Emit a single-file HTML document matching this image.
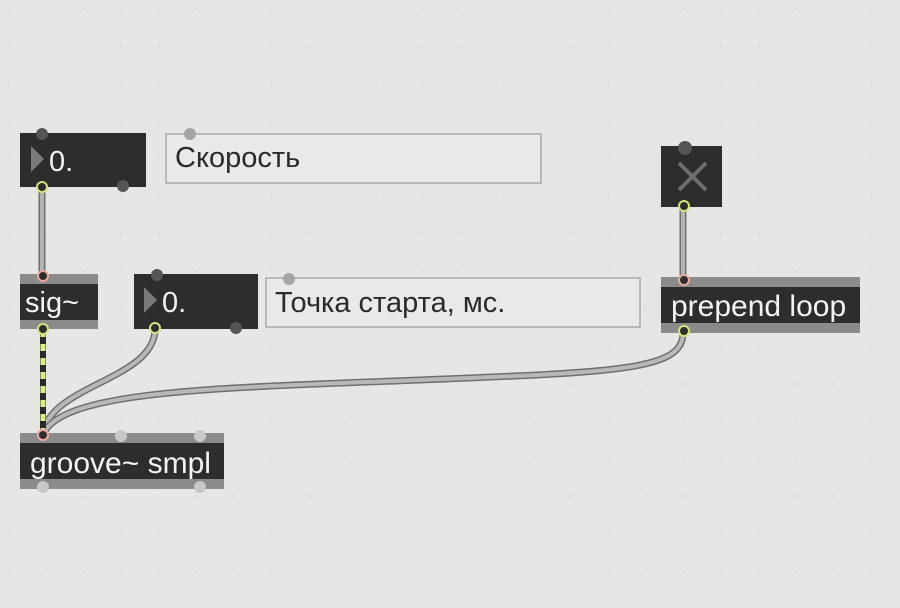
<!DOCTYPE html>
<html><head><meta charset="utf-8"><style>
html,body{margin:0;padding:0;background:#e6e7e5;}
svg{display:block}
text{font-family:"Liberation Sans","DejaVu Sans",sans-serif;}
</style></head><body>
<svg width="900" height="608" viewBox="0 0 900 608" xmlns="http://www.w3.org/2000/svg">
<defs>
<pattern id="g" width="37.5" height="37.5" patternUnits="userSpaceOnUse" x="8" y="8">
<rect x="0" y="0" width="1.5" height="1.5" fill="#d2d3d1"/>
</pattern>
</defs>
<rect width="900" height="608" fill="#e6e7e5"/>
<rect width="900" height="608" fill="url(#g)"/>

<!-- comments -->
<rect x="166" y="134" width="375" height="49" fill="#e9eae8" stroke="#a9aaa8" stroke-width="1.5"/>
<circle cx="190" cy="134" r="6" fill="#a5a6a4"/>
<text x="175" y="167" font-size="29" fill="#2a2a2a">Скорость</text>
<rect x="266" y="278" width="374" height="49" fill="#e9eae8" stroke="#a9aaa8" stroke-width="1.5"/>
<circle cx="289" cy="279" r="6" fill="#a5a6a4"/>
<text x="275" y="312" font-size="29" fill="#2a2a2a">Точка старта, мс.</text>

<!-- cables -->
<g fill="none" stroke-linecap="round">
<path d="M42,188 L42,277" stroke="#6f706e" stroke-width="7"/>
<path d="M42,188 L42,277" stroke="#b3b4b2" stroke-width="4"/>
<path d="M683,208 L683,280" stroke="#6f706e" stroke-width="7"/>
<path d="M683,208 L683,280" stroke="#b3b4b2" stroke-width="4"/>
<path d="M155,329 C155,380 48,385 43,435" stroke="#6f706e" stroke-width="7"/>
<path d="M155,329 C155,380 48,385 43,435" stroke="#b8b9b7" stroke-width="4"/>
<path d="M683,333 C683,370 620,372 420,380 S 60,390 43,435" stroke="#6f706e" stroke-width="7"/>
<path d="M683,333 C683,370 620,372 420,380 S 60,390 43,435" stroke="#b8b9b7" stroke-width="4"/>
<path d="M43,330 L43,435" stroke="#2a2a2a" stroke-width="6" stroke-linecap="butt"/>
<path d="M43,330 L43,435" stroke="#d8ef8a" stroke-width="5" stroke-dasharray="7,7" stroke-linecap="butt"/>
</g>

<!-- number 1 -->
<rect x="20" y="133" width="126" height="54" fill="#2d2d2d"/>
<circle cx="42" cy="134" r="6" fill="#555"/>
<circle cx="123" cy="186" r="6" fill="#555"/>
<polygon points="31,146 31,172 44,159" fill="#7a7a7a"/>
<text x="49" y="171" font-size="29" fill="#f2f2f2">0.</text>
<circle cx="42" cy="187" r="5" fill="#2d2d2d" stroke="#d7e27a" stroke-width="2"/>

<!-- sig~ -->
<rect x="20" y="274" width="78" height="55" fill="#2d2d2d"/>
<rect x="20" y="274" width="78" height="10" fill="#8b8b8a"/>
<rect x="20" y="320" width="78" height="9" fill="#8b8b8a"/>
<text x="25" y="312" font-size="29" fill="#f4f4f4">sig~</text>
<circle cx="43" cy="276" r="5" fill="#2d2d2d" stroke="#eaa8a0" stroke-width="2"/>
<circle cx="43" cy="329" r="5" fill="#2d2d2d" stroke="#d7e27a" stroke-width="2"/>

<!-- number 2 -->
<rect x="134" y="274" width="124" height="55" fill="#2d2d2d"/>
<circle cx="157" cy="275" r="6" fill="#555"/>
<circle cx="236" cy="328" r="6" fill="#555"/>
<polygon points="144,287 144,313 157,300" fill="#7a7a7a"/>
<text x="162" y="312" font-size="29" fill="#f2f2f2">0.</text>
<circle cx="155" cy="328" r="5" fill="#2d2d2d" stroke="#d7e27a" stroke-width="2"/>

<!-- toggle -->
<rect x="661" y="146" width="61" height="61" fill="#2d2d2d"/>
<circle cx="685" cy="148" r="7" fill="#555"/>
<path d="M679,163 L706,190 M706,163 L679,190" stroke="#6d6d6d" stroke-width="4"/>
<circle cx="684" cy="206" r="5" fill="#2d2d2d" stroke="#d7e27a" stroke-width="2"/>

<!-- prepend loop -->
<rect x="661" y="277" width="199" height="56" fill="#2d2d2d"/>
<rect x="661" y="277" width="199" height="10" fill="#8b8b8a"/>
<rect x="661" y="323" width="199" height="10" fill="#8b8b8a"/>
<text x="671" y="316" font-size="30" fill="#f4f4f4">prepend loop</text>
<circle cx="684" cy="280" r="5" fill="#2d2d2d" stroke="#eaa8a0" stroke-width="2"/>
<circle cx="684" cy="331" r="5" fill="#2d2d2d" stroke="#d7e27a" stroke-width="2"/>

<!-- groove -->
<rect x="20" y="433" width="204" height="56" fill="#2d2d2d"/>
<rect x="20" y="433" width="204" height="10" fill="#8b8b8a"/>
<rect x="20" y="479" width="204" height="10" fill="#8b8b8a"/>
<circle cx="121" cy="436" r="6" fill="#c8c8c7"/>
<circle cx="200" cy="436" r="6" fill="#c8c8c7"/>
<circle cx="43" cy="487" r="6" fill="#c8c8c7"/>
<circle cx="200" cy="487" r="6" fill="#c8c8c7"/>
<text x="30" y="473" font-size="30" fill="#f4f4f4">groove~ smpl</text>
<circle cx="43" cy="435" r="5" fill="#2d2d2d" stroke="#eaa8a0" stroke-width="2"/>
</svg>
</body></html>
